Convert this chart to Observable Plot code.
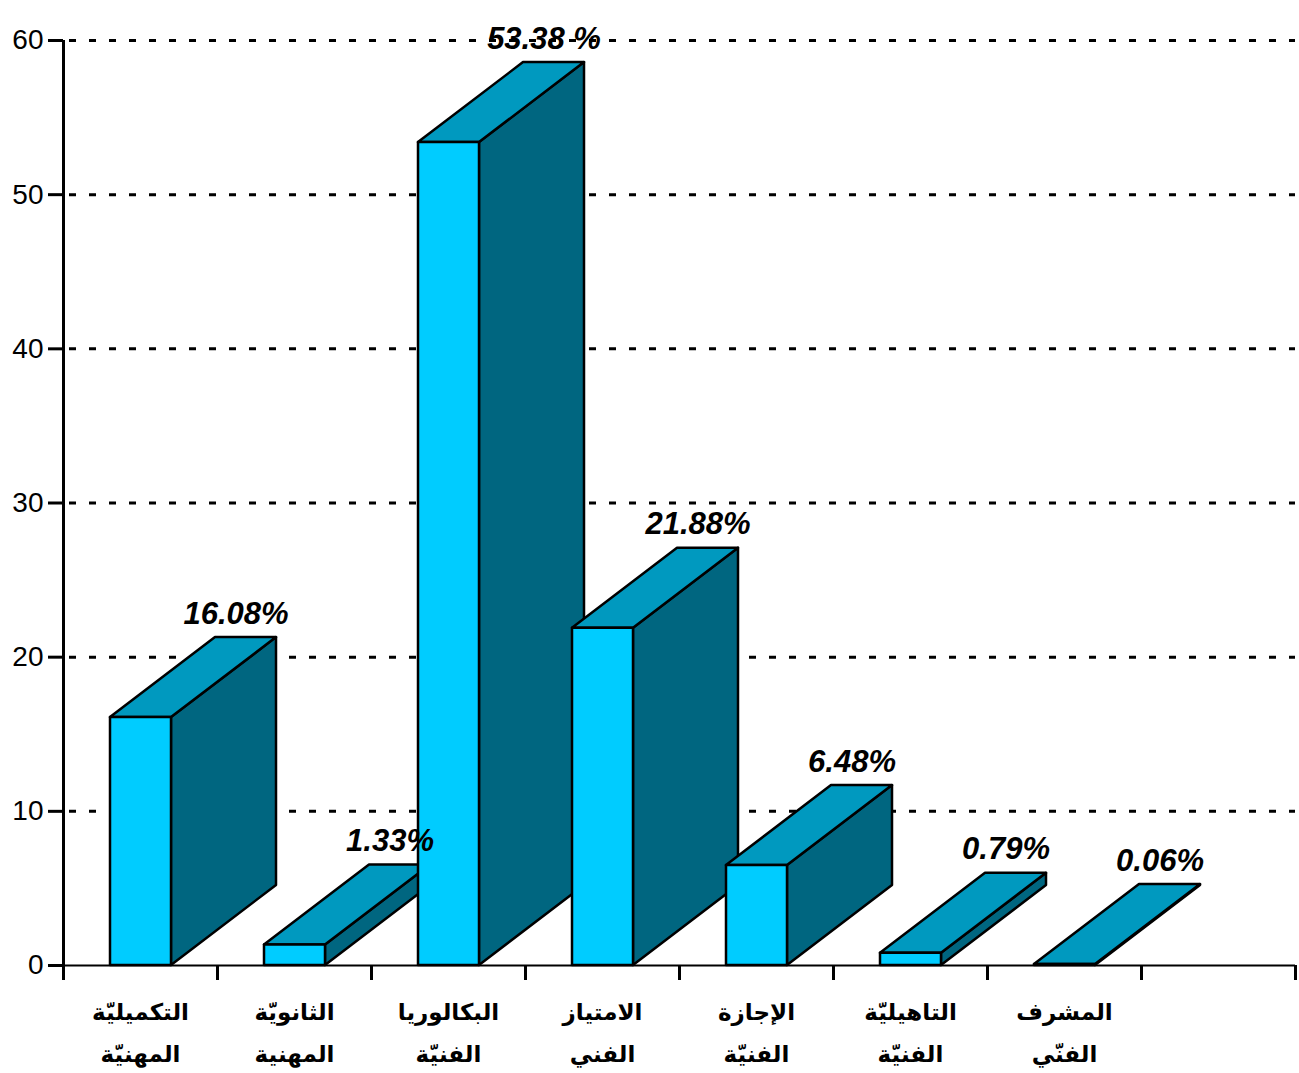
<!DOCTYPE html>
<html>
<head>
<meta charset="utf-8">
<script src="https://cdn.jsdelivr.net/npm/d3@7"></script>
<script src="https://cdn.jsdelivr.net/npm/@observablehq/plot@0.6"></script>
<style>
  html, body { margin: 0; padding: 0; background: #fff; }
  #chart svg { display: block; }
</style>
</head>
<body>
<div id="chart"></div>
<script>
// ---- data ----
const categoryLine1 = ["التكميليّة", "الثانويّة", "البكالوريا", "الامتياز", "الإجازة", "التاهيليّة", "المشرف"];
const categoryLine2 = ["المهنيّة", "المهنية", "الفنيّة", "الفني", "الفنيّة", "الفنيّة", "الفنّي"];
const values = [16.08, 1.33, 53.38, 21.88, 6.48, 0.79, 0.06];
const valueLabels = ["16.08%", "1.33%", "53.38 %", "21.88%", "6.48%", "0.79%", "0.06%"];
const yTicks = [0, 10, 20, 30, 40, 50, 60];
const slotCount = 8; // 7 categories + one empty slot on the axis

// ---- geometry (in scale units) ----
const W = 1299, H = 1073;
const mL = 63, mR = 4, mT = 40, mB = 108;
const pxPerSlot = (W - mL - mR) / slotCount;
const pxPerUnit = (H - mT - mB) / 60;
const barStart = 47 / pxPerSlot, barEnd = 108 / pxPerSlot;
const depthX = 105 / pxPerSlot, depthY = 80 / pxPerUnit;

const bars = values.map((v, i) => ({
  i, v, label: valueLabels[i],
  xL: i + barStart, xR: i + barEnd,
  cat: categoryLine1[i] + "\n" + categoryLine2[i]
}));

const sidePts = bars.flatMap(b => [
  {bar: b.i, x: b.xR, y1: 0, y2: b.v},
  {bar: b.i, x: b.xR + depthX, y1: depthY, y2: b.v + depthY}
]);
const topPts = bars.flatMap(b => [
  {bar: b.i, y: b.v, x1: b.xL, x2: b.xR},
  {bar: b.i, y: b.v + depthY, x1: b.xL + depthX, x2: b.xR + depthX}
]);

const FRONT = "#00CCFF", TOP = "#0099BF", SIDE = "#006680";
const sw = 2.5;

const chart = Plot.plot({
  width: W, height: H,
  marginLeft: mL, marginRight: mR, marginTop: mT, marginBottom: mB,
  style: {fontFamily: "'Liberation Sans', Arial, sans-serif", fontSize: "28px", color: "#000", background: "#fff"},
  x: {type: "linear", domain: [0, slotCount], axis: null},
  y: {type: "linear", domain: [0, 60], axis: null},
  marks: [
    // dotted gridlines
    Plot.ruleY(yTicks.filter(d => d > 0), {x1: 0, x2: slotCount, stroke: "#000", strokeWidth: 3, strokeDasharray: "7 13", strokeDashoffset: -6}),
    Plot.ruleY([0], {x1: 0, x2: slotCount, stroke: "#000", strokeWidth: 2}),
    // axes
    Plot.ruleX([0], {y1: 0, y2: 60, stroke: "#000", strokeWidth: 3}),
    Plot.axisY({ticks: yTicks, tickSize: 15, tickPadding: 5, strokeWidth: 3, fontSize: 28, tickFormat: d => d}),
    Plot.axisX({ticks: d3.range(0, slotCount + 1), tickSize: 15, strokeWidth: 3, tickFormat: () => ""}),
    // 3D bars
    Plot.area(sidePts, {x1: "x", y1: "y1", y2: "y2", z: "bar", fill: SIDE, stroke: "#000", strokeWidth: sw, strokeLinejoin: "round"}),
    Plot.area(topPts, {x1: "x1", x2: "x2", y1: "y", z: "bar", fill: TOP, stroke: "#000", strokeWidth: sw, strokeLinejoin: "round"}),
    Plot.rect(bars, {x1: "xL", x2: "xR", y1: 0, y2: "v", fill: FRONT, stroke: "#000", strokeWidth: sw, strokeLinejoin: "round"}),
    // value labels
    Plot.text(bars, {
      x: b => (b.xL + b.xR) / 2 + depthX, y: b => b.v + depthY,
      text: "label", dx: -10, dy: -14, lineAnchor: "bottom", textAnchor: "middle",
      fontSize: 31, fontWeight: "bold", fontStyle: "italic", fill: "#000"
    }),
    // category labels
    Plot.text(bars, {
      x: b => b.i + 0.5, y: 0, text: "cat",
      dy: 24, lineAnchor: "top", lineHeight: 1.85, textAnchor: "middle",
      fontSize: 23, fontWeight: "bold", fill: "#000",
      fontFamily: "'DejaVu Sans', sans-serif"
    })
  ]
});
document.getElementById("chart").appendChild(chart);
</script>
</body>
</html>
